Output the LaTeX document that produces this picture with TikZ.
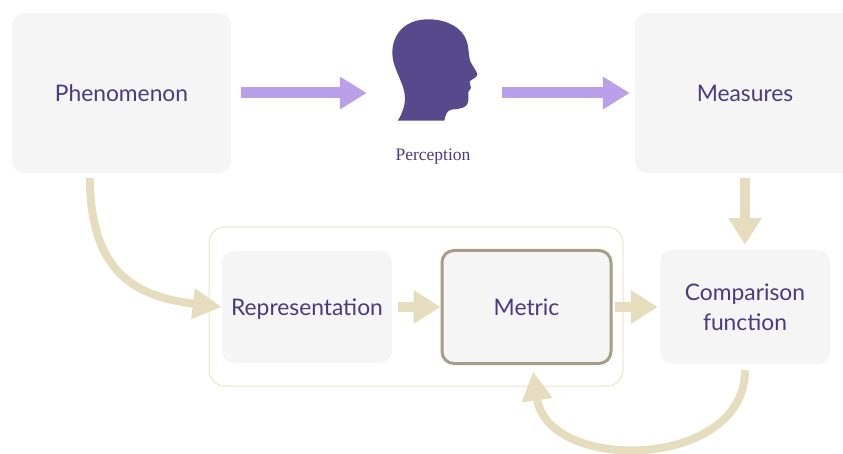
\documentclass[tikz,border=0pt]{standalone}
\usepackage{fontspec}
\setmainfont{Lato}
\newfontfamily\captionfont{Liberation Serif}
\usetikzlibrary{arrows.meta, positioning}
\definecolor{boxgray}{HTML}{F5F5F5}
\definecolor{inkpurple}{HTML}{4A3A80}
\definecolor{headpurple}{HTML}{564A8C}
\definecolor{liliac}{HTML}{B9A0E8}
\definecolor{sand}{HTML}{E6DCBE}
\definecolor{sandline}{HTML}{EFE3C8}
\definecolor{metricline}{HTML}{A59D85}
\tikzset{
  panel/.style={rectangle, rounded corners=12pt, fill=boxgray, inner sep=0pt, text=inkpurple, font=\fontsize{22.8}{30}\selectfont, align=center},
  liliacarrow/.style={draw=liliac, line width=11pt, -{Triangle[length=27pt, width=31pt]}},
  sandarrow/.style={draw=sand, line width=10pt, -{Triangle[length=27pt, width=32pt]}},
  sandcurve/.style={draw=sand, line width=8pt, -{Triangle[length=29pt, width=29pt]}},
}
\begin{document}
\begin{tikzpicture}[x=1pt, y=-1pt]
        \useasboundingbox (0, 0) rectangle (843, 454);
        \clip (0, 0) rectangle (843, 454);

        \node[draw=sandline, line width=1pt, rounded corners=16pt, minimum width=414pt, minimum height=159pt, inner sep=0pt] (group) at (416, 306.5) {};

        \node[panel, text depth=0pt, minimum width=219pt, minimum height=160pt] (phenomenon) at (121.5, 93) {Phenomenon};
        \node[panel, text depth=0pt, minimum width=220pt, minimum height=160pt] (measures) at (745, 93) {Measures};
        \node[panel, text depth=0pt, minimum width=170pt, minimum height=112pt] (representation) at (307, 307) {Representation};
        \node[panel, draw=metricline, line width=3pt, text depth=0pt, minimum width=169pt, minimum height=113pt] (metric) at (526.5, 307) {Metric};
        \node[panel, minimum width=170pt, minimum height=114pt] (comparison) at (745, 307) {Comparison\\function};

        \node[inner sep=0pt, minimum width=87pt, minimum height=20pt] (head) at (434.5, 93) {};
        \node[text=inkpurple, font=\captionfont\fontsize{17.5}{18}\selectfont] (perception) at (433, 157) {Perception};

        \fill[headpurple] (428.3, 19.3) .. controls (405, 19.3) and (392.3, 34) .. (392.3, 53.3)
          .. controls (392.3, 68) and (405, 84) .. (405, 98)
          .. controls (405, 107) and (401, 116) .. (397.7, 120.7)
          -- (444.3, 120.7) .. controls (445.5, 115) and (447, 110) .. (452, 109.5)
          .. controls (458, 109) and (468, 109) .. (468.3, 100)
          -- (468.3, 92) -- (471, 88) -- (469.5, 81.5)
          .. controls (472, 79) and (477.3, 77.5) .. (477.3, 74.5)
          .. controls (477.3, 71) and (470, 64) .. (469.5, 58)
          .. controls (468.5, 52) and (468.5, 47) .. (467, 42)
          .. controls (463, 28) and (447, 19.3) .. (428.3, 19.3) -- cycle;

        \draw[liliacarrow, shorten <=9.5pt, shorten >=24pt] (phenomenon.east) -- (head.center -| head.west);
        \draw[liliacarrow, shorten <=24pt, shorten >=5pt] (head.center -| head.east) -- (measures.west);

        \draw[sandarrow, shorten <=5pt, shorten >=5pt] (measures.south) -- (comparison.north);
        \draw[sandarrow, shorten <=6pt, shorten >=0pt] (representation.east) -- (metric.west);
        \draw[sandarrow, shorten <=2pt, shorten >=2pt] (metric.east) -- (comparison.west);
        \draw[sandcurve] ([xshift=-31.5pt, yshift=-5pt]phenomenon.south) .. controls +(0, 95) and +(-85, -10) .. (representation.west);
        \draw[sandcurve] ([yshift=-6pt]comparison.south) .. controls +(0, 100) and +(15, 102) .. ([xshift=6.5pt, yshift=-6.5pt]metric.south);
\end{tikzpicture}
\end{document}
